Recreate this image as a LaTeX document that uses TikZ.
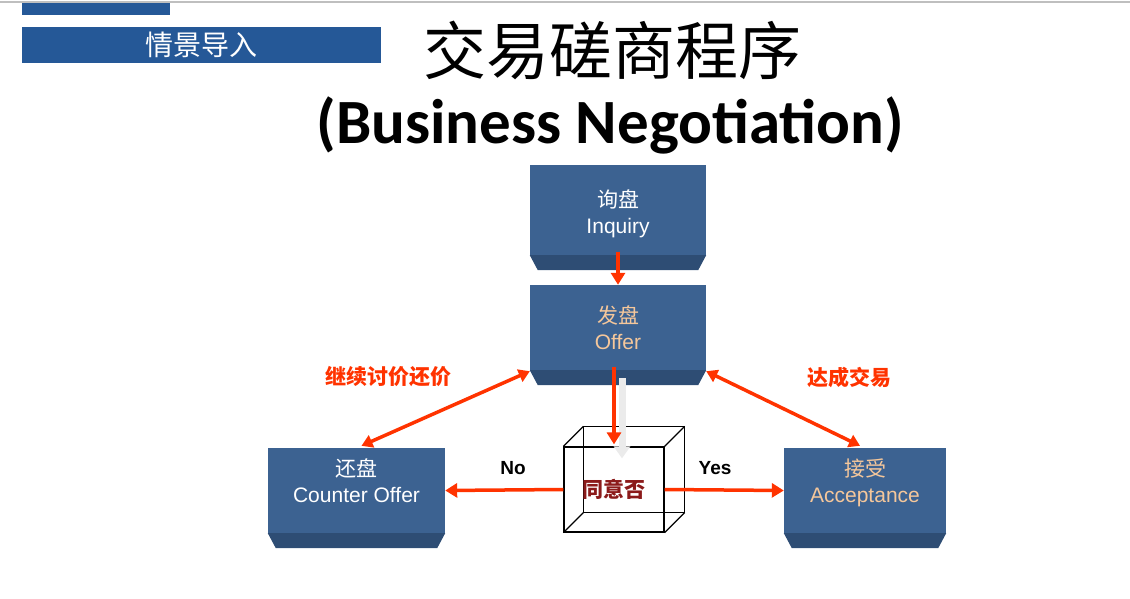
\documentclass[tikz,border=0pt]{standalone}
\usepackage{fontspec}
\setmainfont{Liberation Sans}
\newfontfamily\cjk{Noto Sans CJK SC}
\newfontfamily\titlefont{Carlito}
\usetikzlibrary{arrows.meta,calc}
\definecolor{boxblue}{HTML}{3C6291}
\definecolor{bevblue}{HTML}{2E4D74}
\definecolor{barblue}{HTML}{255897}
\definecolor{flowred}{HTML}{FF3300}
\definecolor{offertxt}{HTML}{F5C79B}
\definecolor{darkred}{HTML}{8B1A1A}
\tikzset{
  facebox/.style={fill=boxblue,inner sep=0pt,align=center,font=\fontsize{21}{26}\selectfont},
  flow/.style={draw=flowred,line width=4pt,-{Triangle[length=12pt,width=14pt]}},
  bothflow/.style={draw=flowred,line width=3.5pt,{Triangle[length=11pt,width=13pt]}-{Triangle[length=11pt,width=13pt]}},
  redlabel/.style={text=flowred,font=\cjk\bfseries\fontsize{21}{24}\selectfont},
}
\newcommand{\bevel}[1]{%
  \fill[bevblue] (#1.south west) -- (#1.south east) -- ++(-8,15)
    -- ($(#1.south west)+(8,15)$) -- cycle;}
\begin{document}
\begin{tikzpicture}[x=1pt,y=-1pt]
  \useasboundingbox (0,0) rectangle (1130,599);
  \draw[gray!50,line width=1.5pt] (0,2) -- (1130,2);
  \fill[barblue] (22,3) rectangle (170,15);
  \fill[barblue] (22,27) rectangle (381,63);
  \node[text=white,font=\cjk\fontsize{28}{30}\selectfont] (intro) at (201,45) {情景导入};
  \node[font=\cjk\fontsize{63}{66}\selectfont] (title) at (612,50) {交易磋商程序};
  \node[font=\titlefont\bfseries\fontsize{63}{66}\selectfont] (subtitle) at (610,125) {(Business Negotiation)};
  \begin{scope}[every node/.style={facebox}]
    \node[minimum width=176pt,minimum height=90pt] (inq) at (618,210) {};
    \node[fill=none,text=white] (inqtext) at (618,214) {{\cjk 询盘}\\Inquiry};
    \node[minimum width=176pt,minimum height=85pt,text=offertxt] (offer) at (618,327.5) {{\cjk 发盘}\\Offer};
    \node[minimum width=177pt,minimum height=85pt,text=white] (counter) at (356.5,490.5) {{\cjk 还盘}\\Counter Offer\\[-6pt]\mbox{}};
    \node[minimum width=162pt,minimum height=85pt,text=offertxt] (accept) at (865,490.5) {{\cjk 接受}\\Acceptance\\[-6pt]\mbox{}};
  \end{scope}
  \bevel{inq} \bevel{offer} \bevel{counter} \bevel{accept}
  % cube
  \node[minimum width=100pt,minimum height=85pt,inner sep=0pt,draw,line width=1.2pt] (agree) at (614,489.5) {};
  \draw[line width=1.2pt] ($(agree.north west)+(20,-20)$) rectangle ($(agree.south east)+(20,-20)$);
  \foreach \c in {north west,north east,south west,south east}
    \draw[line width=1.2pt] (agree.\c) -- ++(20,-20);
  \node[text=darkred,font=\cjk\bfseries\fontsize{21}{24}\selectfont] at (agree) {同意否};
  % arrows
  \coordinate (inqout) at ($(inq.south)+(0,-3)$);
  \draw[flow] (inqout) -- (offer.north);
  \draw[draw=black!8!white,line width=7pt,-{Triangle[length=12pt,width=16pt]}] ($(offer.south)+(4,8)$) -- ($(agree.north)+(8,12)$);
  \draw[flow] ($(offer.south)+(-4,-3)$) -- ($(agree.north)+(0,-2)$);
  \draw[bothflow] ($(counter.north)+(5,-2)$) -- ($(offer.south west)+(0,1)$);
  \draw[bothflow] ($(accept.north)+(-5,-2)$) -- ($(offer.south east)+(0,1)$);
  \draw[flow,line width=3.5pt] (agree.west) -- (counter.east);
  \draw[flow,line width=3.5pt] (agree.east) -- (accept.west);
  \node[redlabel] (cont) at (388,377) {继续讨价还价};
  \node[redlabel] (deal) at (849,377) {达成交易};
  \node[font=\bfseries\fontsize{19}{22}\selectfont] (no) at (513,468) {No};
  \node[font=\bfseries\fontsize{19}{22}\selectfont] (yes) at (715,468) {Yes};
\end{tikzpicture}
\end{document}
